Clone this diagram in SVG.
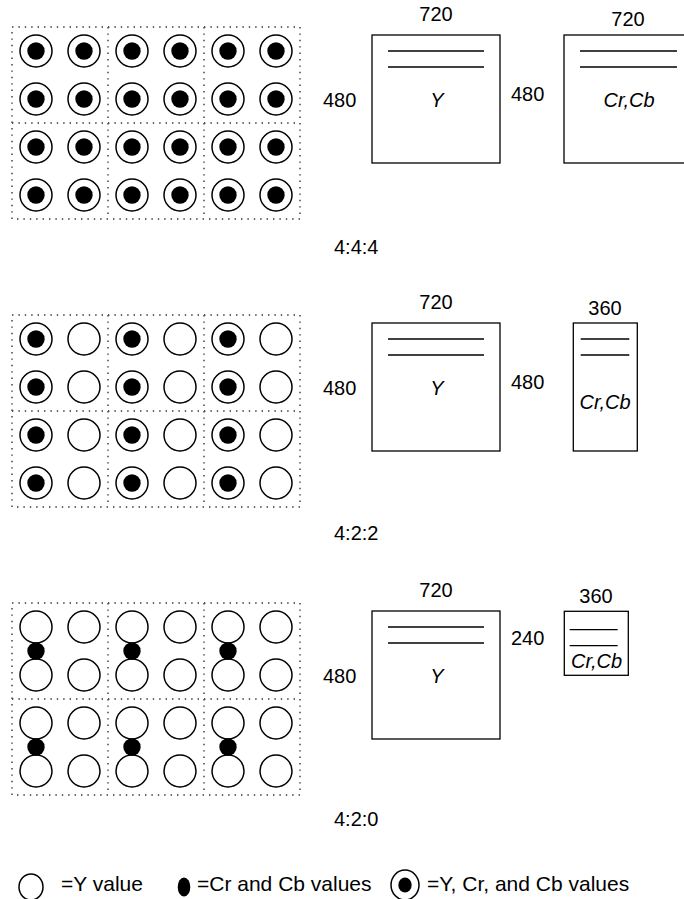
<svg xmlns="http://www.w3.org/2000/svg" width="684" height="899" viewBox="0 0 684 899">
<style>
text{font-family:"Liberation Sans",Arial,sans-serif;fill:#000}
.num{font-size:20px}
.lab{font-size:20px}
.it{font-size:20px;font-style:italic;text-anchor:middle}
.leg{font-size:21px}
.grid{fill:none;stroke:#333;stroke-width:1.4;stroke-dasharray:1.4 5}
.o{fill:#fff;stroke:#000;stroke-width:1.5}
.d{fill:#000}
.box{fill:#fff;stroke:#000;stroke-width:1.3}
.ln{stroke:#000;stroke-width:1.3}
</style>
<defs>
<g id="both"><circle class="o" r="16"/><circle class="d" r="8.7"/></g>
<circle id="yv" class="o" r="16"/>
</defs>

<!-- 4:4:4 -->
<g id="grid444">
<rect class="grid" x="12" y="27" width="288" height="192"/>
<line class="grid" x1="108" y1="27" x2="108" y2="219"/>
<line class="grid" x1="204" y1="27" x2="204" y2="219"/>
<line class="grid" x1="12" y1="123" x2="300" y2="123"/>
<g>
<use href="#both" x="36" y="51"/><use href="#both" x="84" y="51"/><use href="#both" x="132" y="51"/><use href="#both" x="180" y="51"/><use href="#both" x="228" y="51"/><use href="#both" x="276" y="51"/>
<use href="#both" x="36" y="99"/><use href="#both" x="84" y="99"/><use href="#both" x="132" y="99"/><use href="#both" x="180" y="99"/><use href="#both" x="228" y="99"/><use href="#both" x="276" y="99"/>
<use href="#both" x="36" y="147"/><use href="#both" x="84" y="147"/><use href="#both" x="132" y="147"/><use href="#both" x="180" y="147"/><use href="#both" x="228" y="147"/><use href="#both" x="276" y="147"/>
<use href="#both" x="36" y="195"/><use href="#both" x="84" y="195"/><use href="#both" x="132" y="195"/><use href="#both" x="180" y="195"/><use href="#both" x="228" y="195"/><use href="#both" x="276" y="195"/>
</g>
</g>
<g id="y444">
<text class="num" x="436" y="21" text-anchor="middle">720</text>
<text class="num" x="323" y="107">480</text>
<rect class="box" x="372" y="35" width="128" height="128"/>
<line class="ln" x1="388" y1="51" x2="484" y2="51"/>
<line class="ln" x1="388" y1="67" x2="484" y2="67"/>
<text class="it" x="437" y="107">Y</text>
</g>
<g id="c444">
<text class="num" x="628" y="26" text-anchor="middle">720</text>
<text class="num" x="511" y="101">480</text>
<rect class="box" x="564" y="35" width="128" height="128"/>
<line class="ln" x1="580" y1="51" x2="677" y2="51"/>
<line class="ln" x1="580" y1="67" x2="677" y2="67"/>
<text class="it" x="629" y="107">Cr,Cb</text>
</g>
<text class="lab" x="334" y="254">4:4:4</text>

<!-- 4:2:2 -->
<g id="grid422">
<rect class="grid" x="12" y="315" width="288" height="192"/>
<line class="grid" x1="108" y1="315" x2="108" y2="507"/>
<line class="grid" x1="204" y1="315" x2="204" y2="507"/>
<line class="grid" x1="12" y1="411" x2="300" y2="411"/>
<g>
<use href="#both" x="36" y="339"/><use href="#yv" x="84" y="339"/><use href="#both" x="132" y="339"/><use href="#yv" x="180" y="339"/><use href="#both" x="228" y="339"/><use href="#yv" x="276" y="339"/>
<use href="#both" x="36" y="387"/><use href="#yv" x="84" y="387"/><use href="#both" x="132" y="387"/><use href="#yv" x="180" y="387"/><use href="#both" x="228" y="387"/><use href="#yv" x="276" y="387"/>
<use href="#both" x="36" y="435"/><use href="#yv" x="84" y="435"/><use href="#both" x="132" y="435"/><use href="#yv" x="180" y="435"/><use href="#both" x="228" y="435"/><use href="#yv" x="276" y="435"/>
<use href="#both" x="36" y="483"/><use href="#yv" x="84" y="483"/><use href="#both" x="132" y="483"/><use href="#yv" x="180" y="483"/><use href="#both" x="228" y="483"/><use href="#yv" x="276" y="483"/>
</g>
</g>
<g id="y422">
<text class="num" x="436" y="309" text-anchor="middle">720</text>
<text class="num" x="323" y="395">480</text>
<rect class="box" x="372" y="323" width="128" height="128"/>
<line class="ln" x1="388" y1="339" x2="484" y2="339"/>
<line class="ln" x1="388" y1="355" x2="484" y2="355"/>
<text class="it" x="437" y="395">Y</text>
</g>
<g id="c422">
<text class="num" x="605" y="315" text-anchor="middle">360</text>
<text class="num" x="511" y="389">480</text>
<rect class="box" x="573.3" y="323" width="64" height="128"/>
<line class="ln" x1="580.7" y1="339" x2="629.3" y2="339"/>
<line class="ln" x1="580.7" y1="355" x2="629.3" y2="355"/>
<text class="it" x="605" y="409">Cr,Cb</text>
</g>
<text class="lab" x="334" y="540">4:2:2</text>

<!-- 4:2:0 -->
<g id="grid420">
<rect class="grid" x="12" y="603" width="288" height="192"/>
<line class="grid" x1="108" y1="603" x2="108" y2="795"/>
<line class="grid" x1="204" y1="603" x2="204" y2="795"/>
<line class="grid" x1="12" y1="699" x2="300" y2="699"/>
<g>
<use href="#yv" x="36" y="627"/><use href="#yv" x="84" y="627"/><use href="#yv" x="132" y="627"/><use href="#yv" x="180" y="627"/><use href="#yv" x="228" y="627"/><use href="#yv" x="276" y="627"/>
<use href="#yv" x="36" y="675"/><use href="#yv" x="84" y="675"/><use href="#yv" x="132" y="675"/><use href="#yv" x="180" y="675"/><use href="#yv" x="228" y="675"/><use href="#yv" x="276" y="675"/>
<use href="#yv" x="36" y="723"/><use href="#yv" x="84" y="723"/><use href="#yv" x="132" y="723"/><use href="#yv" x="180" y="723"/><use href="#yv" x="228" y="723"/><use href="#yv" x="276" y="723"/>
<use href="#yv" x="36" y="771"/><use href="#yv" x="84" y="771"/><use href="#yv" x="132" y="771"/><use href="#yv" x="180" y="771"/><use href="#yv" x="228" y="771"/><use href="#yv" x="276" y="771"/>
<circle class="d" cx="36" cy="651" r="8.7"/><circle class="d" cx="132" cy="651" r="8.7"/><circle class="d" cx="228" cy="651" r="8.7"/>
<circle class="d" cx="36" cy="747" r="8.7"/><circle class="d" cx="132" cy="747" r="8.7"/><circle class="d" cx="228" cy="747" r="8.7"/>
</g>
</g>
<g id="y420">
<text class="num" x="436" y="597" text-anchor="middle">720</text>
<text class="num" x="323" y="683">480</text>
<rect class="box" x="372" y="611" width="128" height="128"/>
<line class="ln" x1="388" y1="627" x2="484" y2="627"/>
<line class="ln" x1="388" y1="643" x2="484" y2="643"/>
<text class="it" x="437" y="683">Y</text>
</g>
<g id="c420">
<text class="num" x="596" y="603" text-anchor="middle">360</text>
<text class="num" x="511" y="645">240</text>
<rect class="box" x="564.3" y="611.3" width="64" height="64"/>
<line class="ln" x1="569.7" y1="629.7" x2="617.7" y2="629.7"/>
<line class="ln" x1="569.7" y1="645.7" x2="617.7" y2="645.7"/>
<text class="it" x="596.5" y="668">Cr,Cb</text>
</g>
<text class="lab" x="334" y="826">4:2:0</text>

<!-- legend -->
<g id="legend">
<ellipse class="o" cx="31" cy="887" rx="12" ry="13"/>
<text class="leg" x="61" y="891">=Y value</text>
<ellipse class="d" cx="184" cy="887" rx="6.3" ry="9.5"/>
<text class="leg" x="197" y="891">=Cr and Cb values</text>
<ellipse class="o" cx="405" cy="885" rx="14" ry="15"/>
<ellipse class="d" cx="405" cy="885" rx="6.7" ry="7.5"/>
<text class="leg" x="427" y="891">=Y, Cr, and Cb values</text>
</g>
</svg>
